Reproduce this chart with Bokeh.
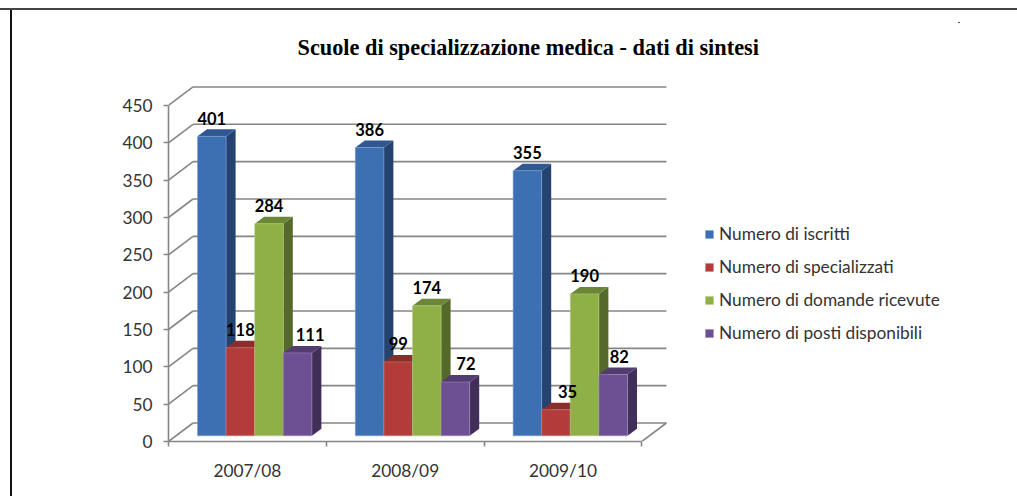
from bokeh.plotting import figure
from bokeh.embed import file_html
from bokeh.resources import INLINE
from bokeh.models import (Range1d, FixedTicker, LinearAxis, Legend, LegendItem, ColumnDataSource)
from bokeh.core.properties import value

categories = ["2007/08", "2008/09", "2009/10"]
series = ["Numero di iscritti", "Numero di specializzati", "Numero di domande ricevute", "Numero di posti disponibili"]
iscritti = [401, 386, 355]
specializzati = [118, 99, 35]
domande = [284, 174, 190]
posti = [111, 72, 82]
y_ticks = [0, 50, 100, 150, 200, 250, 300, 350, 400, 450]

all_series = [iscritti, specializzati, domande, posti]
front_col = ["#3D70B2", "#B33B39", "#8EB046", "#6D4F94"]
edge_col = ["#7FA3D3", "#CF8381", "#B8CE88", "#A08CBC"]
side_col = ["#254370", "#732625", "#556A2A", "#412F5A"]
top_col = ["#2F5790", "#8A2D2B", "#6B8635", "#523C70"]
label_dx = [[0, 0, 0], [0, 0, 11.5], [0, 0, 0], [12.5, 10.5, 6]]

# projection of the pseudo-3D box, in data units
PX_X, PX_Y = 157.8, 0.7467
WALL_DX, WALL_DY = 24.5 / PX_X, 18.5 / PX_Y
BAR_DX, BAR_DY = 9.5 / PX_X, 7.0 / PX_Y
BASE = 5.7 / PX_Y
BAR_W = 28.6 / PX_X
PAD = 29.0 / PX_X

W, H = 1017, 496
L, T, B = 168, 70, 55
FRAME_W, FRAME_H = W - L, H - T - B
p = figure(width=W, height=H, output_backend="svg", toolbar_location=None,
           x_range=Range1d(0, FRAME_W / PX_X), y_range=Range1d(0, FRAME_H / PX_Y),
           x_axis_location=None, y_axis_location=None,
           min_border_left=L, min_border_right=0, min_border_top=T, min_border_bottom=B)
p.grid.visible = False
p.outline_line_color = None
p.background_fill_color = "white"
p.border_fill_color = None
# thin frame lines and the stray speck of the source picture
p.styles = {
    "background-image": "linear-gradient(#444,#444), linear-gradient(#111,#111), linear-gradient(#555,#555)",
    "background-size": "100% 2px, 2px calc(100% - 8px), 2px 1px",
    "background-position": "0 8px, 9.5px 8px, 958px 22px",
    "background-repeat": "no-repeat",
}

p.title.text = "Scuole di specializzazione medica -  dati di sintesi"
p.title.text_font = "Liberation Serif"
p.title.text_font_size = "22.3px"
p.title.text_font_style = "bold"
p.title.text_color = "black"
p.title.align = "left"
p.title.offset = 129
p.title.standoff = 21

GRID = "#868686"
# walls
n_cat = len(categories)
p.segment(x0=[0] * len(y_ticks), y0=y_ticks, x1=[WALL_DX] * len(y_ticks), y1=[t + WALL_DY for t in y_ticks],
          line_color=GRID, line_width=1.6)
p.segment(x0=[WALL_DX] * len(y_ticks), y0=[t + WALL_DY for t in y_ticks],
          x1=[n_cat + WALL_DX] * len(y_ticks), y1=[t + WALL_DY for t in y_ticks],
          line_color=GRID, line_width=1.6)
p.segment(x0=[n_cat], y0=[0], x1=[n_cat + WALL_DX], y1=[WALL_DY], line_color=GRID, line_width=1.6)

fronts = {}
label_x, label_y, label_t, label_off = [], [], [], []
for i in range(n_cat):
    for j, vals in enumerate(all_series):
        v = vals[i]
        l = i + PAD + j * BAR_W
        r = l + BAR_W
        t = v + BASE
        p.patch([r, r + BAR_DX, r + BAR_DX, r], [BASE, BASE + BAR_DY, t + BAR_DY, t], color=side_col[j], line_width=0)
        p.patch([l, l + BAR_DX, r + BAR_DX, r], [t, t + BAR_DY, t + BAR_DY, t], color=top_col[j], line_width=0)
        q = p.quad(left=[l], right=[r], bottom=[BASE], top=[t], fill_color=front_col[j],
                   line_color=edge_col[j], line_width=1, line_alpha=0.55)
        fronts.setdefault(j, q)
        label_x.append(l + BAR_W / 2)
        label_y.append(t + 18.3 / PX_Y)
        label_t.append(str(v))
        label_off.append(label_dx[j][i])

src = ColumnDataSource(dict(x=label_x, y=label_y, t=label_t, o=label_off))
p.text(x="x", y="y", text="t", x_offset="o", source=src, text_font=value("Lato"), text_font_style="bold",
       text_font_size="16.5px", text_color="black", text_align="center", text_baseline="middle")

# axes
TICK_TEXT = "#333333"
ya = LinearAxis(ticker=FixedTicker(ticks=y_ticks), bounds=(0, 450), axis_line_color=GRID, axis_line_width=1.6,
                major_tick_line_color=GRID, major_tick_line_width=1.6, major_tick_in=0, major_tick_out=5,
                minor_tick_line_color=None, major_label_text_font="Lato", major_label_text_font_size="17.3px",
                major_label_text_color=TICK_TEXT, major_label_standoff=11)
p.add_layout(ya, "left")
xa = LinearAxis(ticker=FixedTicker(ticks=[i + 0.5 for i in range(n_cat)], minor_ticks=list(range(n_cat + 1))),
                bounds=(0, n_cat), axis_line_color=GRID, axis_line_width=1.6,
                major_tick_line_color=None, major_tick_in=0, major_tick_out=0,
                minor_tick_line_color=GRID, minor_tick_line_width=1.6, minor_tick_in=0, minor_tick_out=5,
                major_label_overrides={i + 0.5: c for i, c in enumerate(categories)},
                major_label_text_font="Lato", major_label_text_font_size="17.3px",
                major_label_text_color=TICK_TEXT, major_label_standoff=13)
p.add_layout(xa, "below")

legend = Legend(items=[LegendItem(label=s, renderers=[fronts[j]]) for j, s in enumerate(series)],
                location=(536, 98), orientation="vertical", margin=0, padding=0, spacing=12,
                glyph_width=10, glyph_height=10, label_standoff=5, label_height=19,
                label_text_font="Lato", label_text_font_size="17.3px", label_text_color=TICK_TEXT,
                background_fill_alpha=0, border_line_color=None)
p.add_layout(legend, "center")

open("out.html", "w").write(file_html(p, INLINE))
